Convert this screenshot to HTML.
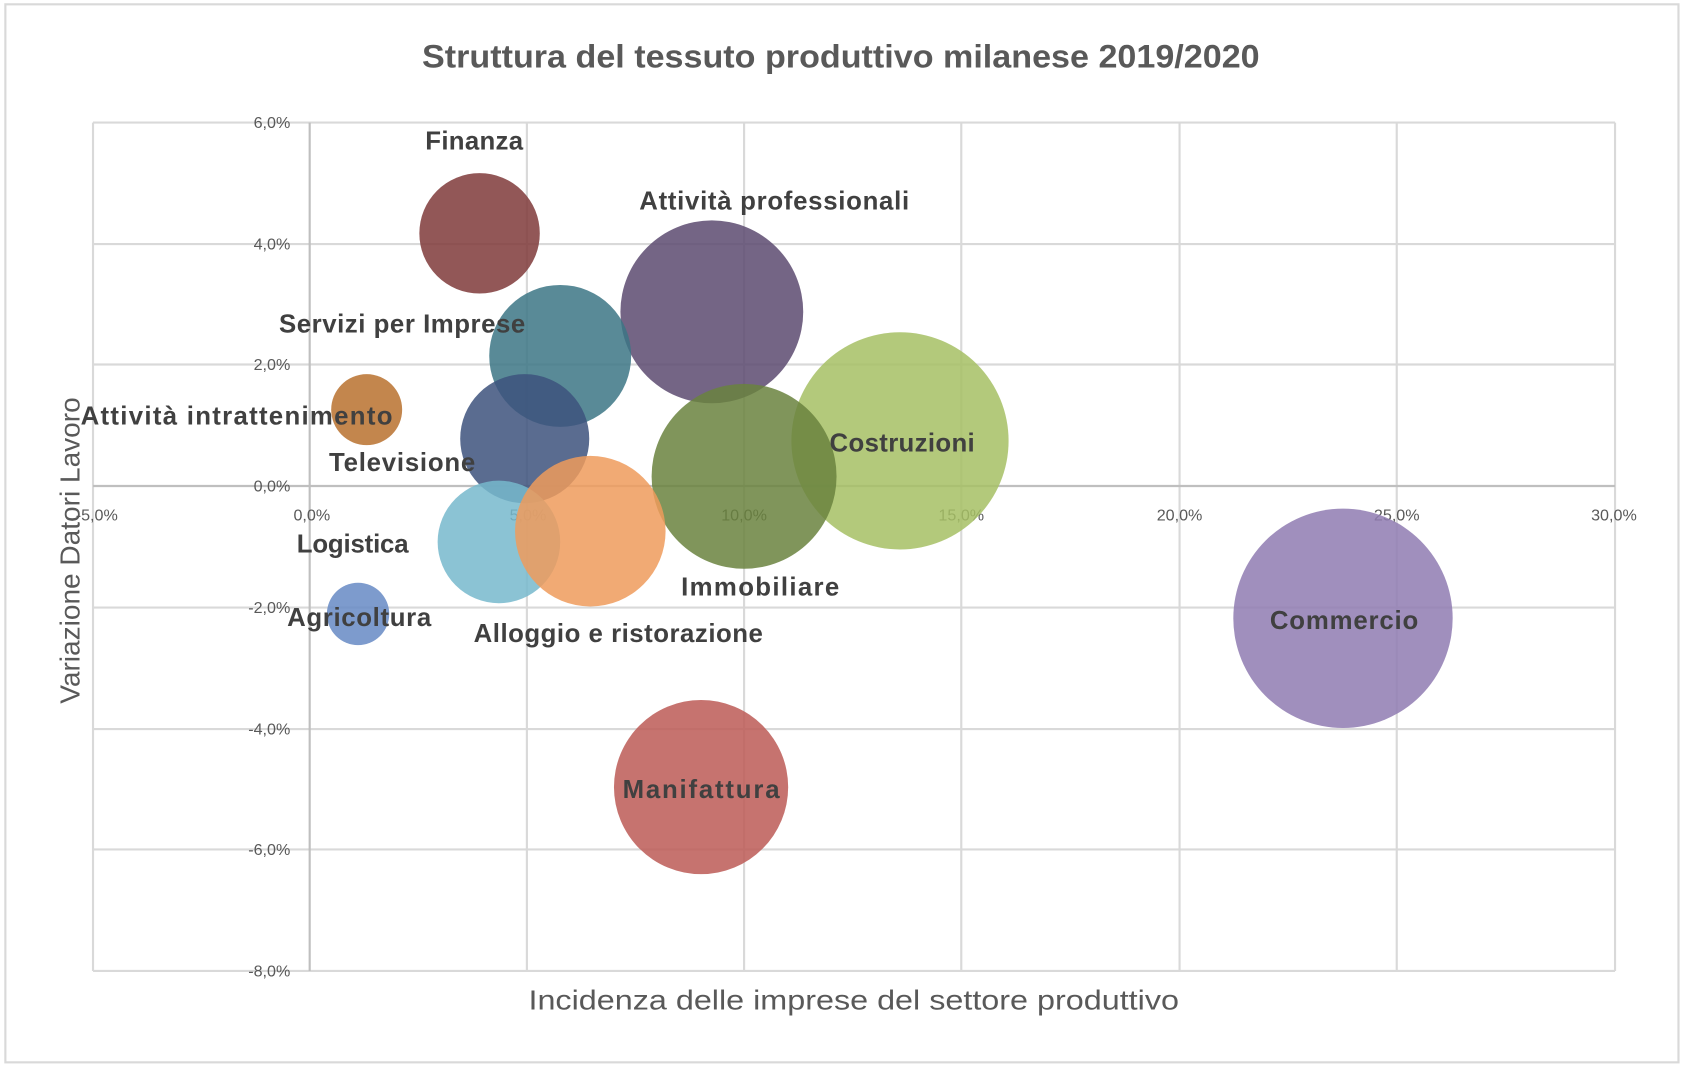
<!DOCTYPE html>
<html><head><meta charset="utf-8"><style>html,body{margin:0;padding:0;background:#fff}svg{display:block}</style></head>
<body>
<svg width="1686" height="1066" viewBox="0 0 1568 991.4" xmlns="http://www.w3.org/2000/svg" font-family="Liberation Sans, sans-serif">
<rect x="5" y="4" width="1556" height="984" fill="#fff" stroke="#d9d9d9" stroke-width="2"/>
<text x="782" y="63" text-anchor="middle" font-size="30" font-weight="bold" fill="#595959" textLength="779" lengthAdjust="spacingAndGlyphs">Struttura del tessuto produttivo milanese 2019/2020</text>
<g stroke="#d9d9d9" stroke-width="2">
<line x1="86.5" y1="114" x2="1502" y2="114"/>
<line x1="86.5" y1="227" x2="1502" y2="227"/>
<line x1="86.5" y1="339" x2="1502" y2="339"/>
<line x1="86.5" y1="565" x2="1502" y2="565"/>
<line x1="86.5" y1="678" x2="1502" y2="678"/>
<line x1="86.5" y1="790" x2="1502" y2="790"/>
<line x1="86.5" y1="903" x2="1502" y2="903"/>
<line x1="86.5" y1="114" x2="86.5" y2="903"/>
<line x1="490" y1="114" x2="490" y2="903"/>
<line x1="692" y1="114" x2="692" y2="903"/>
<line x1="894" y1="114" x2="894" y2="903"/>
<line x1="1097" y1="114" x2="1097" y2="903"/>
<line x1="1299" y1="114" x2="1299" y2="903"/>
<line x1="1502" y1="114" x2="1502" y2="903"/>
</g>
<g stroke="#bfbfbf" stroke-width="2">
<line x1="86.5" y1="452" x2="1502" y2="452"/>
<line x1="288" y1="114" x2="288" y2="903"/>
</g>
<g font-size="15" fill="#595959" text-anchor="end">
<text x="270" y="119">6,0%</text><text x="270" y="232">4,0%</text><text x="270" y="344">2,0%</text>
<text x="270" y="457">0,0%</text><text x="270" y="570">-2,0%</text><text x="270" y="683">-4,0%</text>
<text x="270" y="795">-6,0%</text><text x="270" y="908">-8,0%</text>
</g>
<g font-size="15" fill="#595959" text-anchor="middle">
<text x="90" y="484">-5,0%</text><text x="290" y="484">0,0%</text><text x="491" y="484">5,0%</text>
<text x="692" y="484">10,0%</text><text x="894" y="484">15,0%</text><text x="1097" y="484">20,0%</text>
<text x="1299" y="484">25,0%</text><text x="1501" y="484">30,0%</text>
</g>
<g fill-opacity="0.85">
<circle cx="446" cy="217" r="56" fill="#7f3a3a"/>
<circle cx="662" cy="290" r="85" fill="#5c4a70"/>
<circle cx="521" cy="331" r="66" fill="#3c7685"/>
<circle cx="341" cy="381" r="33" fill="#b8712e"/>
<circle cx="488" cy="408" r="60" fill="#3d527d"/>
<circle cx="837" cy="410" r="101" fill="#a6c064"/>
<circle cx="692" cy="443" r="86" fill="#6a823e"/>
<circle cx="464" cy="504" r="57" fill="#77b8cd"/>
<circle cx="549" cy="494" r="70" fill="#ee9b5c"/>
<circle cx="333" cy="571" r="29" fill="#6689c4"/>
<circle cx="1249" cy="575" r="102" fill="#8f7bb2"/>
<circle cx="652" cy="732" r="81" fill="#bc5b56"/>
</g>
<g font-size="24" font-weight="bold" fill="#404040" text-anchor="middle" lengthAdjust="spacingAndGlyphs">
<text x="441" y="139" textLength="91">Finanza</text>
<text x="720" y="195" textLength="251">Attività professionali</text>
<text x="374" y="309" textLength="229">Servizi per Imprese</text>
<text x="220" y="395" textLength="290">Attività intrattenimento</text>
<text x="374" y="438" textLength="136">Televisione</text>
<text x="839" y="420" textLength="135">Costruzioni</text>
<text x="707" y="554" textLength="147">Immobiliare</text>
<text x="328" y="514" textLength="104">Logistica</text>
<text x="575" y="597" textLength="269">Alloggio e ristorazione</text>
<text x="334" y="582" textLength="134">Agricoltura</text>
<text x="1250" y="585" textLength="138">Commercio</text>
<text x="652" y="742" textLength="146">Manifattura</text>
</g>
<text x="794" y="939" text-anchor="middle" font-size="26" fill="#595959" textLength="605" lengthAdjust="spacingAndGlyphs">Incidenza delle imprese del settore produttivo</text>
<text transform="translate(74,512) rotate(-90)" text-anchor="middle" font-size="26" fill="#595959" textLength="285" lengthAdjust="spacingAndGlyphs">Variazione Datori Lavoro</text>
</svg>
</body></html>
